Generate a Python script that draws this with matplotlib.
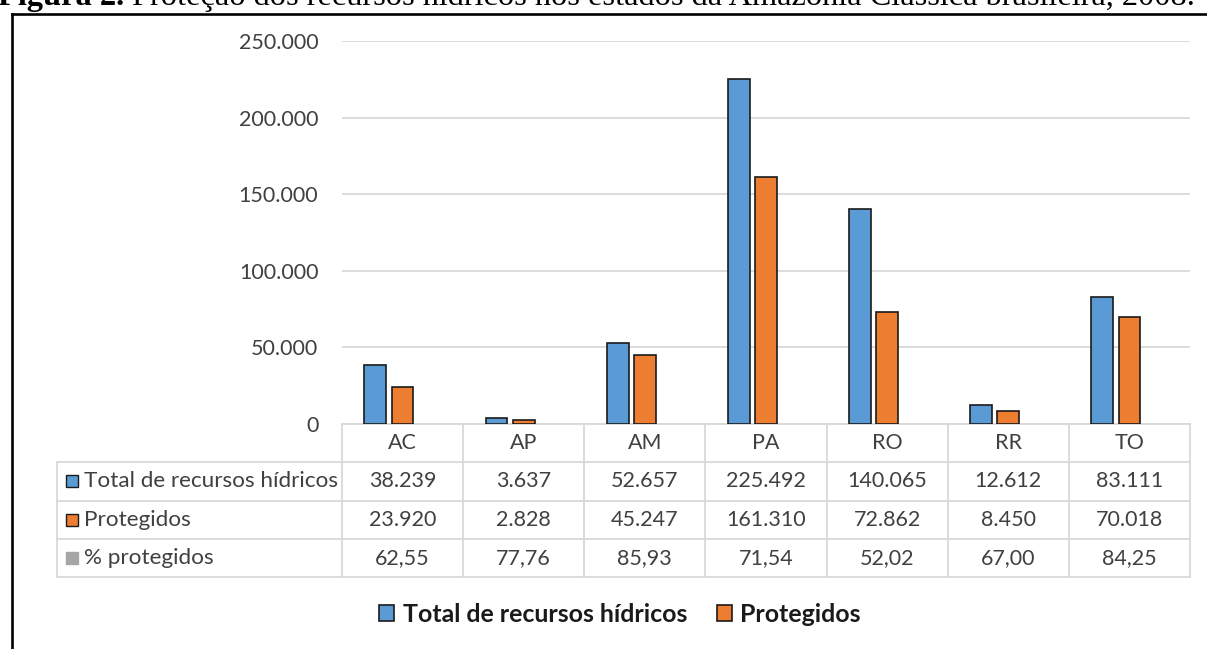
import matplotlib
matplotlib.use("Agg")
import matplotlib.pyplot as plt
from matplotlib.patches import Patch
from matplotlib.lines import Line2D
from matplotlib.transforms import blended_transform_factory
import numpy as np

# ---------------- data ----------------
title_bold = "Figura 2."
title_rest = " Proteção dos recursos hídricos nos estados da Amazônia Clássica brasileira, 2008."
states = ["AC", "AP", "AM", "PA", "RO", "RR", "TO"]
total = [38239, 3637, 52657, 225492, 140065, 12612, 83111]
protegidos = [23920, 2828, 45247, 161310, 72862, 8450, 70018]
pct_protegidos = [62.55, 77.76, 85.93, 71.54, 52.02, 67.00, 84.25]
series_names = ["Total de recursos hídricos", "Protegidos", "% protegidos"]
y_ticks = [0, 50000, 100000, 150000, 200000, 250000]

# ---------------- style ----------------
plt.rcParams['font.family'] = ['Lato', 'DejaVu Sans']
BLUE, ORANGE, GRAY = "#5B9BD5", "#ED7D31", "#A5A5A5"
EDGE = "#1a1a1a"
GRID = "#D9D9D9"
TXT = "#404040"
FS = 15.5
FS_LAB = 16.2
FS_LEG = 17.9
FS_TITLE = 23.35


def fmt_int(v):
    return f"{v:,}".replace(",", ".")


def fmt_pct(v):
    return f"{v:.2f}".replace(".", ",")


W, H = 1207, 649
fig = plt.figure(figsize=(W / 100, H / 100), dpi=100)
ax = fig.add_axes([342 / W, (H - 424) / H, 848 / W, 383 / H])

x = np.arange(len(states))
off, bw = 0.225, 0.18
ax.bar(x - off, total, bw, color=BLUE, edgecolor=EDGE, linewidth=1.2, zorder=3)
ax.bar(x, protegidos, bw, color=ORANGE, edgecolor=EDGE, linewidth=1.2, zorder=3)
ax.bar(x + off, pct_protegidos, bw, color=GRAY, linewidth=0, zorder=3)

ax.set_xlim(-0.5, len(states) - 0.5)
ax.set_ylim(0, 250000)
ax.set_yticks(y_ticks)
ax.set_yticklabels([fmt_int(v) for v in y_ticks])
ax.tick_params(axis='y', length=0, pad=17, labelsize=FS, labelcolor=TXT)
ax.set_xticks([])
for s in ax.spines.values():
    s.set_visible(False)
ax.grid(axis='y', color=GRID, linewidth=1.3, zorder=0)
ax.set_axisbelow(True)

# ---------------- data table ----------------
tr = blended_transform_factory(ax.transData, ax.transAxes)
rh = 0.1
nrows = 4
label_left = (57 - 342) / 848
lk = dict(color=GRID, linewidth=1.3, clip_on=False)
# horizontal lines
ax.plot([-0.5, len(states) - 0.5], [0, 0], transform=tr, **lk)
for k in range(1, nrows + 1):
    ax.plot([label_left, 1], [-k * rh, -k * rh], transform=ax.transAxes, **lk)
# vertical lines
for i in range(len(states) + 1):
    ax.plot([i - 0.5, i - 0.5], [0, -nrows * rh], transform=tr, **lk)
ax.plot([label_left, label_left], [-rh, -nrows * rh], transform=ax.transAxes, **lk)

# header
for i, s in enumerate(states):
    ax.text(i, -0.5 * rh, s, transform=tr, ha='center', va='center',
            fontsize=FS, color=TXT)
rows = [
    [fmt_int(v) for v in total],
    [fmt_int(v) for v in protegidos],
    [fmt_pct(v) for v in pct_protegidos],
]
row_colors = [BLUE, ORANGE, GRAY]
row_edges = [EDGE, EDGE, GRAY]
for r, vals in enumerate(rows):
    yc = -(r + 1.5) * rh
    for i, v in enumerate(vals):
        ax.text(i, yc, v, transform=tr, ha='center', va='center',
                fontsize=FS, color=TXT)
    ax.plot([(72 - 342) / 848], [yc], marker='s', markersize=8.2,
            markerfacecolor=row_colors[r], markeredgecolor=row_edges[r],
            markeredgewidth=1.0, transform=ax.transAxes, clip_on=False)
    ax.text((84 - 342) / 848, yc, series_names[r], transform=ax.transAxes,
            ha='left', va='center', fontsize=FS_LAB, color=TXT)

# ---------------- legend ----------------
handles = [Patch(facecolor=BLUE, edgecolor=EDGE, linewidth=1.2),
           Patch(facecolor=ORANGE, edgecolor=EDGE, linewidth=1.2)]
fig.legend(handles, series_names[:2], loc='center',
           bbox_to_anchor=(620 / W, 1 - 614 / H), ncol=2, frameon=False,
           prop=dict(family='Lato', weight='bold', size=FS_LEG),
           handlelength=0.6, handleheight=0.6, handletextpad=0.35,
           columnspacing=1.2, labelcolor='#1a1a1a')

# ---------------- frame and title ----------------
fig.add_artist(Line2D([12 / W, 1], [1 - 14 / H, 1 - 14 / H],
                      transform=fig.transFigure, color='black', linewidth=1.9))
fig.add_artist(Line2D([12 / W, 12 / W], [1 - 14 / H, 0],
                      transform=fig.transFigure, color='black', linewidth=1.9))

t1 = fig.text(-2 / W, 1 - 12 / H, title_bold, family='Liberation Serif',
              weight='bold', fontsize=FS_TITLE, va='bottom', ha='left')
ax.annotate(title_rest, xy=(1, 0), xycoords=t1, va='bottom', ha='left',
            family='Liberation Serif', fontsize=FS_TITLE, annotation_clip=False)

fig.savefig("out.png", dpi=100)
